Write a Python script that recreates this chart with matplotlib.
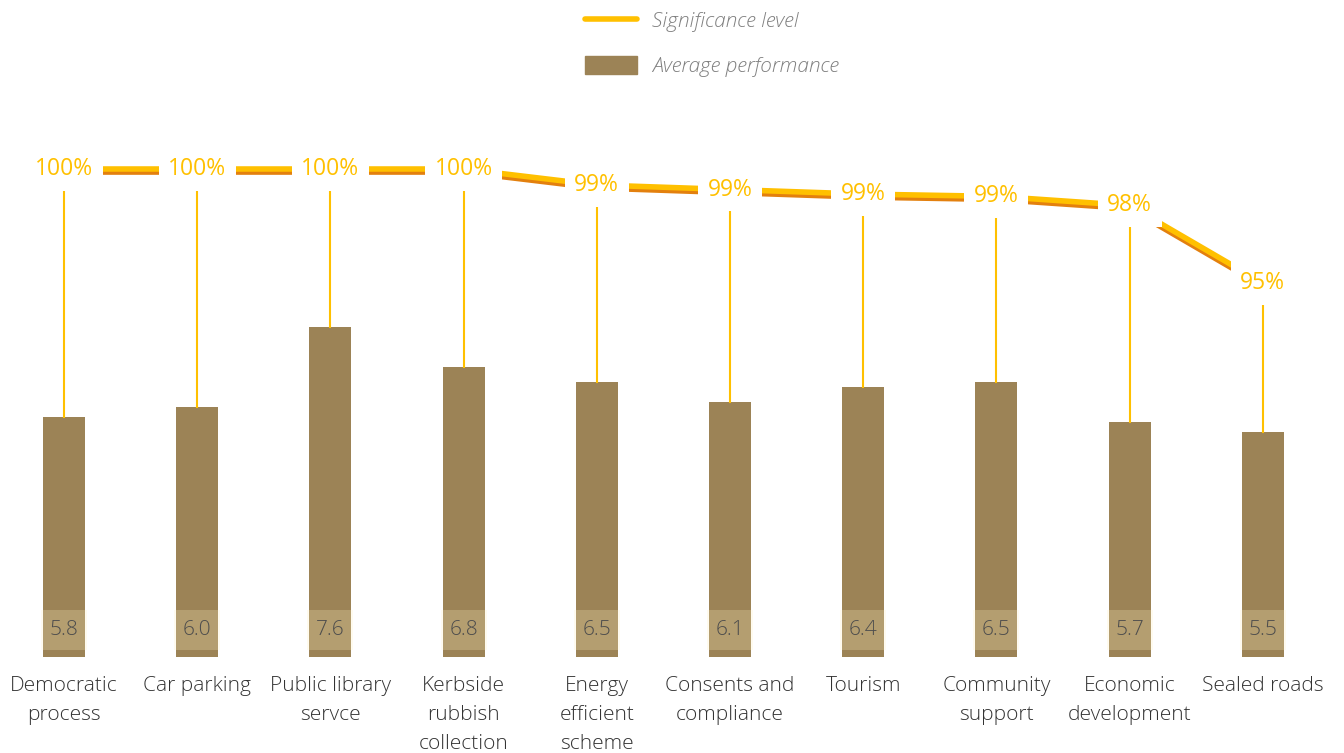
import matplotlib.pyplot as plt
import matplotlib.patheffects as pe
from matplotlib.lines import Line2D
from matplotlib.patches import Patch

plt.rcParams['font.family'] = ['Open Sans', 'DejaVu Sans']

# survey results per service
services = ["Democratic\nprocess", "Car parking", "Public library\nservce",
            "Kerbside\nrubbish\ncollection", "Energy\nefficient\nscheme",
            "Consents and\ncompliance", "Tourism", "Community\nsupport",
            "Economic\ndevelopment", "Sealed roads"]
performance = [5.8, 6.0, 7.6, 6.8, 6.5, 6.1, 6.4, 6.5, 5.7, 5.5]
significance = [100.0, 100.0, 100.0, 100.0, 99.3, 99.1, 98.9, 98.8, 98.4, 95.0]

BAR = "#9C8356"
GOLD = "#FFC000"
ORANGE = "#E3800E"

W, H = 1344, 753
fig = plt.figure(figsize=(W / 100, H / 100), dpi=100)

# axes laid out in pixels: bars sit on y=657px, 133.2px between categories
step = 133.2
x0 = 64
ax = fig.add_axes([0, (H - 657) / H, 1, (657 - 100) / H])
ax.set_xlim(-x0 / step, (W - x0) / step)
ax.set_ylim(1, 1 + 557 / 50)
xs = list(range(len(services)))

ax.bar(xs, [v - 1 for v in performance], bottom=1, width=0.315, color=BAR, zorder=2)
# value label boxes near the bar base
ax.bar(xs, 0.8, bottom=1.14, width=0.345, color="#FFF2C0", alpha=0.25, zorder=3)
for x, v in zip(xs, performance):
    ax.text(x, 1.54, f"{v:.1f}", ha="center", va="center", fontsize=15,
            color="#4D4D4D", fontweight="light", zorder=4)

ax.set_xticks(xs)
ax.set_xticklabels(services, fontsize=15, color="#333333", linespacing=1.6,
                   fontweight="light")
ax.tick_params(axis="x", length=0, pad=14)
ax.set_yticks([])
for s in ax.spines.values():
    s.set_visible(False)

# significance line on its own scale
ax2 = ax.twinx()
ax2.set_ylim(100 - (657 - 169) / 22.8, 100 + 69 / 22.8)
ax2.set_yticks([])
for s in ax2.spines.values():
    s.set_visible(False)

# drop lines from each point to its bar top
to_ax2 = ax.transData + ax2.transData.inverted()
for x, v, p in zip(xs, performance, significance):
    top = to_ax2.transform((x, v))[1]
    ax2.plot([x, x], [top, p], color=GOLD, lw=1.5, zorder=1)

ax2.plot(xs, significance, color=GOLD, lw=4, solid_capstyle="butt", zorder=2,
         path_effects=[pe.SimpleLineShadow(offset=(0, -2.2), shadow_color=ORANGE,
                                           alpha=1), pe.Normal()])
for x, p in zip(xs, significance):
    ax2.text(x, p, f"{p:.0f}%", ha="center", va="center", fontsize=16.5,
             color=GOLD, zorder=5,
             bbox=dict(boxstyle="square,pad=0.42", fc="white", ec="none"))

handles = [Line2D([0], [0], color=GOLD, lw=4, solid_capstyle="round"),
           Patch(color=BAR)]
fig.legend(handles, ["Significance level", "Average performance"],
           loc="upper left", bbox_to_anchor=(566 / W, 1 + 8 / H), frameon=False,
           prop=dict(size=15, style="italic", weight="light"),
           labelcolor="#7F7F7F", handlelength=2.5, handleheight=0.95,
           handletextpad=0.75, labelspacing=1.15)

fig.savefig("out.png", dpi=100)
